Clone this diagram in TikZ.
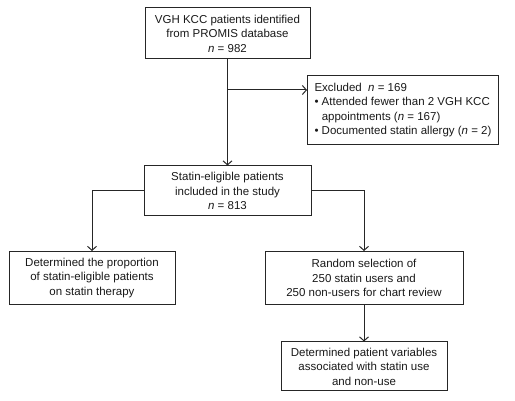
\documentclass[tikz,border=0pt]{standalone}
\usepackage{fontspec}
\setmainfont{Liberation Sans}
\usetikzlibrary{positioning, arrows.meta}

\begin{document}
\begin{tikzpicture}[
  x=1pt, y=-1pt,
  font=\fontsize{11.5}{14.5}\selectfont,
  box/.style={draw=black!85, line width=1pt, align=center, inner sep=2pt,
    text=black!90},
  arrow/.style={-{Straight Barb[length=4pt, width=9pt]}, line width=1pt, black!85},
]
  \useasboundingbox (0,0) rectangle (515,401);

  \node[box, minimum width=165pt, minimum height=51pt] (found) at (227.5,33.5)
    {VGH KCC patients identified\\from PROMIS database\\\textit{n} = 982};
  \node[box, minimum width=188pt, minimum height=60pt, align=left, inner sep=7pt]
    (excl) at (403,110)
    {Excluded\ \ \textit{n} = 169\\
     \textbullet\ Attended fewer than 2 VGH KCC\\
     \phantom{\textbullet\ }appointments (\textit{n} = 167)\\
     \textbullet\ Documented statin allergy (\textit{n} = 2)};
  \node[box, minimum width=167pt, minimum height=50pt] (elig) at (227.5,191)
    {Statin-eligible patients\\included in the study\\\textit{n} = 813};
  \node[box, minimum width=166pt, minimum height=53pt] (prop) at (92,278)
    {Determined the proportion\\of statin-eligible patients\\on statin therapy};
  \node[box, minimum width=198pt, minimum height=53pt] (rand) at (364,278)
    {Random selection of\\250 statin users and\\250 non-users for chart review};
  \node[box, minimum width=166pt, minimum height=49pt] (vars) at (364,366.5)
    {Determined patient variables\\associated with statin use\\and non-use};

  \coordinate (split) at (found.south |- 0,90);

  \draw[arrow] (found) -- (elig);
  \draw[arrow] (split) -- (split -| excl.west);
  \draw[arrow] (elig.west) -| (prop.north);
  \draw[arrow] (elig.east) -| (rand.north);
  \draw[arrow] (rand) -- (vars);
\end{tikzpicture}
\end{document}
